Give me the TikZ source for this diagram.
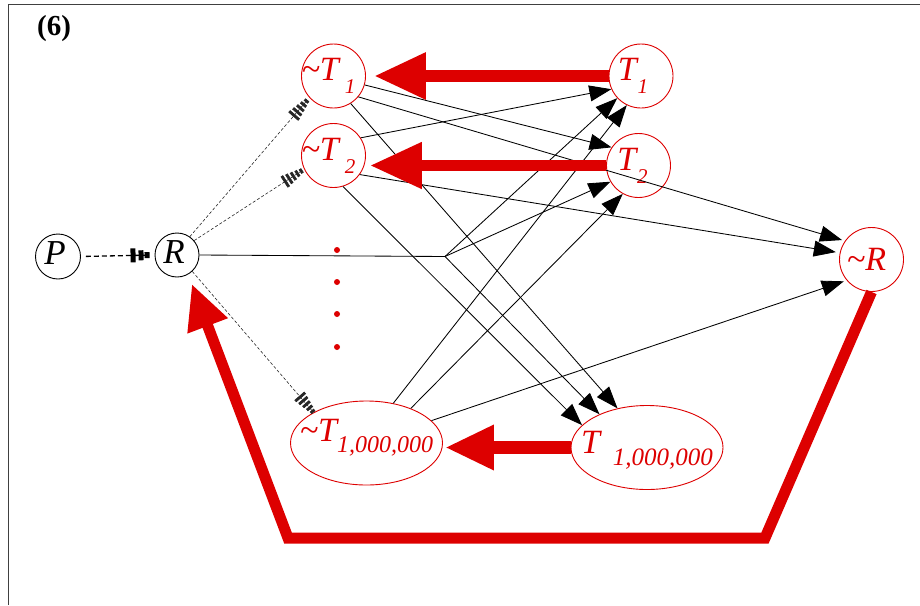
\documentclass[tikz,border=0pt]{standalone}
\usepackage{fontspec}
\setmainfont{Liberation Serif}
\usetikzlibrary{arrows.meta,shapes.geometric}
\definecolor{myred}{HTML}{DD0000}
\definecolor{framegray}{HTML}{404040}
\begin{document}
\begin{tikzpicture}[x=1pt,y=-1pt,
  redcirc/.style={circle,draw=myred,line width=0.9pt,minimum size=64pt,inner sep=0pt},
  redell/.style={ellipse,draw=myred,line width=0.9pt,inner sep=0pt,minimum width=152pt,minimum height=84pt},
  blkcirc/.style={circle,draw=black,line width=0.9pt,minimum size=45pt,inner sep=0pt},
  redtxt/.style={text=myred,font=\fontsize{34}{34}\selectfont\itshape,inner sep=0pt},
  blktxt/.style={text=black,font=\fontsize{35}{35}\selectfont\itshape,inner sep=0pt},
  thinarrow/.style={draw=black,line width=0.85pt,-{Triangle[length=22pt,width=16pt]}},
  bigarrow/.style={draw=myred,line width=12pt,-{Triangle[length=52pt,width=44pt]}},
  dashline/.style={draw=black!85,line width=0.6pt,dash pattern=on 3pt off 2pt,
    -{Rectangle[length=2.8pt,width=13pt,sep=2pt]Rectangle[length=2.8pt,width=11pt,sep=2pt]Rectangle[length=2.8pt,width=9pt,sep=2pt]Rectangle[length=2.8pt,width=7pt,sep=1.8pt]Rectangle[length=2.8pt,width=5pt]}},
  pline/.style={draw=black,line width=1.3pt,dash pattern=on 5pt off 3pt,
    -{Rectangle[length=5pt,width=14pt,sep=3pt]Rectangle[length=5pt,width=10pt,sep=1pt]Rectangle[length=5pt,width=6pt]}},
]
\useasboundingbox (0,0) rectangle (920,605);
\draw[framegray,line width=1pt] (8,605) -- (8,4) -- (920,4);
\node[font=\fontsize{29}{29}\selectfont\bfseries,inner sep=0pt] (lbl6) at (54,29) {(6)};

% nodes
\node[blkcirc,label={[blktxt,xshift=-3pt,yshift=3pt]center:P}] (P) at (58,256.5) {};
\node[blkcirc,minimum size=44pt,label={[blktxt,xshift=-3pt,yshift=3pt]center:R}] (R) at (177,255) {};
\node[redcirc,label={[redtxt,xshift=-5pt]center:{\textasciitilde T\hspace{6pt}\raisebox{-13pt}{\fontsize{21}{21}\selectfont 1}}}] (nT1) at (333.5,76) {};
\node[redcirc,label={[redtxt,xshift=-5pt]center:{\textasciitilde T\hspace{6pt}\raisebox{-13pt}{\fontsize{21}{21}\selectfont 2}}}] (nT2) at (333.5,155.5) {};
\node[redcirc,label={[redtxt,xshift=-8pt]center:{T\hspace{1pt}\raisebox{-13pt}{\fontsize{21}{21}\selectfont 1}}}] (T1) at (641,76) {};
\node[redcirc,label={[redtxt,xshift=-6pt]center:{T\hspace{1pt}\raisebox{-13pt}{\fontsize{21}{21}\selectfont 2}}}] (T2) at (638.5,165.5) {};
\node[redcirc,label={[redtxt,xshift=-5pt]center:{\textasciitilde R}}] (nR) at (871.5,259.5) {};
\node[redell,label={[redtxt,yshift=5pt]center:{\textasciitilde T\raisebox{-11pt}{\fontsize{24}{24}\selectfont 1,000,000}}}] (nTM) at (366.5,443) {};
\node[redell,label={[redtxt,yshift=-3pt]center:{T\hspace{13pt}\raisebox{-12pt}{\fontsize{25}{25}\selectfont 1,000,000}}}] (TM) at (647,447.5) {};

% dots
\fill[myred] (337,250) circle[radius=3pt];
\fill[myred] (337,282) circle[radius=3pt];
\fill[myred] (337,314) circle[radius=3pt];
\fill[myred] (337,347) circle[radius=3pt];

% dashed arrows
\draw[pline,shorten <=5pt,shorten >=5pt] (P.east) -- (R.west);
\draw[dashline,shorten >=3pt] (R.55) -- (nT1.222);
\draw[dashline,shorten >=2pt] (R.40) -- (nT2.205);
\draw[dashline] (R.-47) -- (nTM.150);

% thin arrows
\coordinate (sp) at (445,256.5);
\draw[thinarrow] (nT1.-16) -- (T2.146);
\draw[thinarrow,shorten >=3pt] (nT1.-40) -- (nR.145);
\draw[thinarrow] (nT1.-58) -- (TM.127);
\draw[thinarrow] (nT2.33) -- (T1.204);
\draw[thinarrow,shorten >=4pt] (nT2.-36) -- (nR.168);
\draw[thinarrow] (nT2.-73) -- (TM.161);
\draw[thinarrow] (R.east) -- (sp) -- (T1.223);
\draw[thinarrow] (sp) -- (T2.210);
\draw[thinarrow] (sp) -- (TM.145);
\draw[thinarrow] (nTM.56) -- (T1.244);
\draw[thinarrow] (nTM.38) -- (T2.241);
\draw[thinarrow,shorten >=3pt] (nTM.19) -- (nR.220);

% red arrows
\draw[bigarrow,shorten >=8pt] (T1.west) -- (T1.west -| nT1.east);
\draw[bigarrow,line width=11pt,shorten >=4pt] (T2.west) -- (T2.west -| nT2.east);
\draw[bigarrow,line width=13pt,-{Triangle[length=49pt,width=42pt]},shorten >=2pt] (TM.west) -- (TM.west -| nTM.east);
\coordinate (c1) at (765,538);
\coordinate (c2) at (288,538);
\draw[draw=myred,line width=11pt,line join=miter,-{Triangle[length=45pt,width=40pt]},shorten >=10pt] (nR.south) -- (c1) -- (c2) -- (R.-60);
\end{tikzpicture}
\end{document}
